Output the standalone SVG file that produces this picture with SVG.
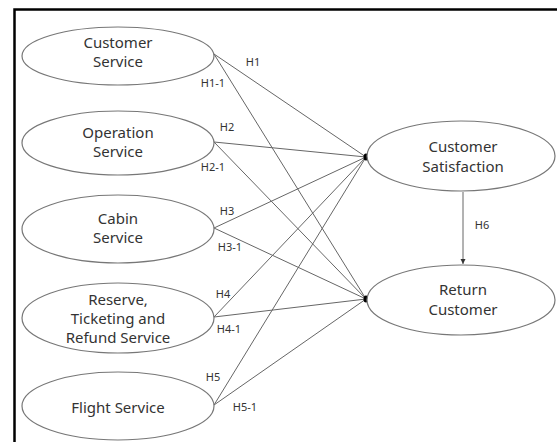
<svg xmlns="http://www.w3.org/2000/svg" width="557" height="442" viewBox="0 0 557 442">
<defs>
<style>
.node ellipse{fill:#fff;stroke:#777;stroke-width:1.2}
.node text{font-family:"Noto Sans","Open Sans","Liberation Sans",sans-serif;font-size:15px;fill:#333;text-anchor:middle}
.lbl{font-family:"Noto Sans","Open Sans","Liberation Sans",sans-serif;font-size:11px;fill:#333;text-anchor:middle}
.edge{stroke:#666;stroke-width:1;fill:none}
</style>
<marker id="arr" markerWidth="6" markerHeight="6" refX="5" refY="3" orient="auto" markerUnits="userSpaceOnUse">
<path d="M0,0.5 L5,3 L0,5.5 Z" fill="#333"/>
</marker>
</defs>
<rect x="0" y="0" width="557" height="442" fill="#fff"/>
<rect x="14.5" y="9.5" width="560" height="450" fill="none" stroke="#000" stroke-width="2.5"/>
<g id="connectors">
<line class="edge" x1="214" y1="54" x2="366" y2="157"/>
<line class="edge" x1="214" y1="54" x2="366" y2="299"/>
<line class="edge" x1="214" y1="142" x2="366" y2="157"/>
<line class="edge" x1="214" y1="142" x2="366" y2="299"/>
<line class="edge" x1="214" y1="228" x2="366" y2="157"/>
<line class="edge" x1="214" y1="228" x2="366" y2="299"/>
<line class="edge" x1="214" y1="317" x2="366" y2="157"/>
<line class="edge" x1="214" y1="317" x2="366" y2="299"/>
<line class="edge" x1="214" y1="405" x2="366" y2="157"/>
<line class="edge" x1="214" y1="405" x2="366" y2="299"/>
<line class="edge" x1="463" y1="192" x2="463" y2="264" marker-end="url(#arr)"/>
<ellipse cx="366" cy="157" rx="2.5" ry="3.5" fill="#000"/>
<ellipse cx="366" cy="299" rx="2.5" ry="3.5" fill="#000"/>
<text class="lbl" x="253" y="66">H1</text>
<text class="lbl" x="213" y="87">H1-1</text>
<text class="lbl" x="227" y="131">H2</text>
<text class="lbl" x="213" y="171">H2-1</text>
<text class="lbl" x="227" y="215">H3</text>
<text class="lbl" x="230" y="251">H3-1</text>
<text class="lbl" x="223" y="298">H4</text>
<text class="lbl" x="229" y="333">H4-1</text>
<text class="lbl" x="213" y="381">H5</text>
<text class="lbl" x="245" y="411">H5-1</text>
<text class="lbl" x="482" y="229">H6</text>
</g>
<g id="customer-service" class="node">
<ellipse cx="118" cy="56" rx="96" ry="29"/>
<text x="118" y="48">Customer</text>
<text x="118" y="67">Service</text>
</g>
<g id="operation-service" class="node">
<ellipse cx="118" cy="143" rx="96" ry="32"/>
<text x="118" y="138">Operation</text>
<text x="118" y="157">Service</text>
</g>
<g id="cabin-service" class="node">
<ellipse cx="118" cy="229" rx="96" ry="34"/>
<text x="118" y="224">Cabin</text>
<text x="118" y="243">Service</text>
</g>
<g id="reserve-service" class="node">
<ellipse cx="118" cy="318" rx="96" ry="35"/>
<text x="118" y="305">Reserve,</text>
<text x="118" y="324">Ticketing and</text>
<text x="118" y="343">Refund Service</text>
</g>
<g id="flight-service" class="node">
<ellipse cx="118" cy="406" rx="96" ry="34"/>
<text x="118" y="413">Flight Service</text>
</g>
<g id="customer-satisfaction" class="node">
<ellipse cx="461" cy="156" rx="94" ry="35"/>
<text x="463" y="152">Customer</text>
<text x="463" y="172">Satisfaction</text>
</g>
<g id="return-customer" class="node">
<ellipse cx="461" cy="300" rx="94" ry="35"/>
<text x="463" y="295">Return</text>
<text x="463" y="315">Customer</text>
</g>
</svg>
